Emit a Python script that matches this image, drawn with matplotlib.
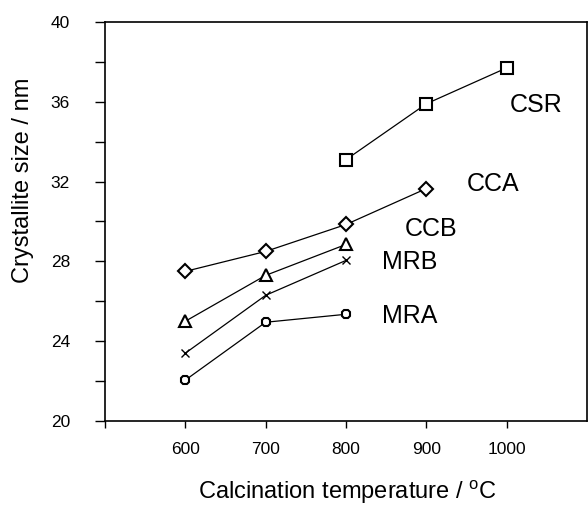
import matplotlib
matplotlib.use("Agg")
import matplotlib.pyplot as plt
from matplotlib.ticker import MultipleLocator

plt.rcParams["font.family"] = ["Liberation Sans", "DejaVu Sans"]
plt.rcParams["mathtext.fontset"] = "custom"
plt.rcParams["mathtext.rm"] = "Liberation Sans"

# temperatures (degC) and crystallite sizes (nm)
csr_t = [800, 900, 1000]
csr_size = [33.1, 35.9, 37.7]

cca_t = [600, 700, 800, 900]
cca_size = [27.5, 28.5, 29.85, 31.65]

ccb_t = [600, 700, 800]
ccb_size = [25.0, 27.3, 28.85]

mrb_t = [600, 700, 800]
mrb_size = [23.4, 26.3, 28.05]

mra_t = [600, 700, 800]
mra_size = [22.05, 24.95, 25.35]

x_ticks = [600, 700, 800, 900, 1000]
x_tick_labels = ["600", "700", "800", "900", "1000"]

fig = plt.figure(figsize=(5.88, 5.05), dpi=100)
ax = fig.add_axes([105 / 588, 1 - 421 / 505, 482 / 588, 399 / 505])

line_kw = dict(color="black", linewidth=0.9, markerfacecolor="white",
               markeredgecolor="black", markeredgewidth=1.5)
ax.plot(csr_t, csr_size, marker="s", markersize=8.5, **line_kw)
ax.plot(cca_t, cca_size, marker="D", markersize=7, **line_kw)
ax.plot(ccb_t, ccb_size, marker="^", markersize=8, **line_kw)
ax.plot(mrb_t, mrb_size, marker="x", markersize=6, color="black",
        linewidth=0.9, markeredgewidth=1.0)
ax.plot(mra_t, mra_size, marker="8", markersize=7, **line_kw)

labels = [("CSR", 1037, 35.85), ("CCA", 983, 31.9), ("CCB", 906, 29.6),
          ("MRB", 879, 27.95), ("MRA", 879, 25.25)]
for name, lx, ly in labels:
    ax.text(lx, ly, name, fontsize=18, ha="center", va="center")

ax.set_xlim(500, 1100)
ax.set_ylim(20, 40)
ax.set_xticks([500] + x_ticks)
ax.set_xticklabels([""] + x_tick_labels)
ax.yaxis.set_major_locator(MultipleLocator(4))
ax.yaxis.set_minor_locator(MultipleLocator(2))
ax.tick_params(axis="both", which="both", direction="out", labelsize=12.5,
               width=1.0)
ax.tick_params(axis="x", length=5, pad=10)
ax.tick_params(axis="y", which="both", length=7, pad=32)
for lab in ax.get_yticklabels():
    lab.set_horizontalalignment("left")
for sp in ax.spines.values():
    sp.set_linewidth(1.2)

ax.set_xlabel(r"Calcination temperature / $^{\rm o}$C", fontsize=17, va="center")
ax.xaxis.set_label_coords(0.502, -0.178)
ax.set_ylabel("Crystallite size / nm", fontsize=17, va="center")
ax.yaxis.set_label_coords(-0.17, 0.604)

fig.savefig("out.png", dpi=100)
